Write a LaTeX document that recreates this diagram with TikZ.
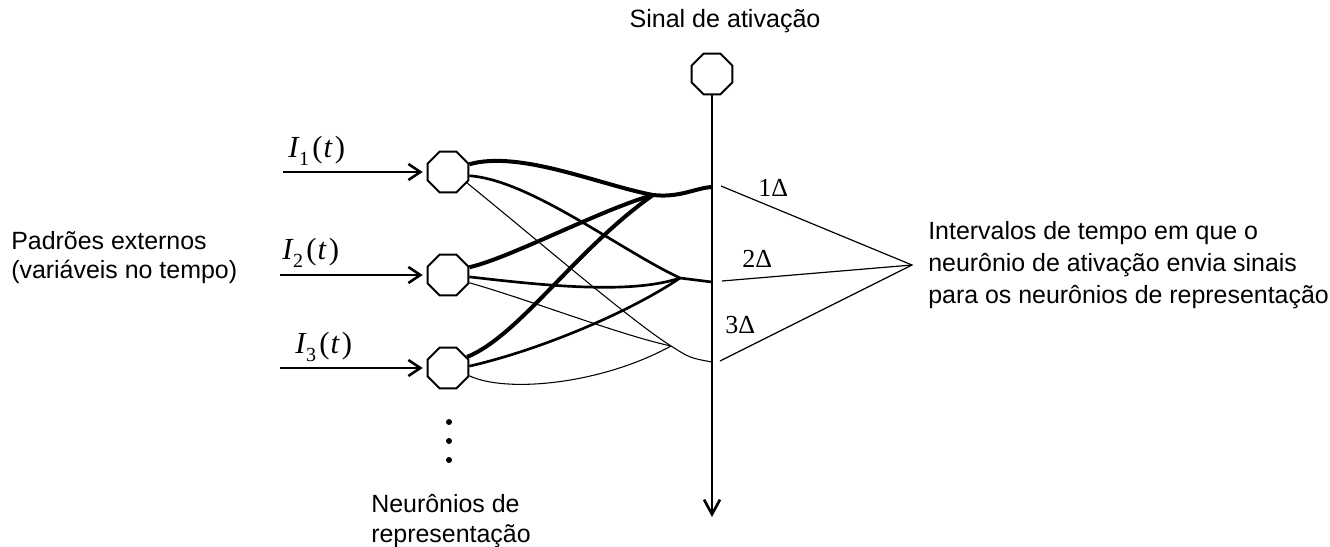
\documentclass[tikz,border=0pt]{standalone}
\usepackage{fontspec}
\setmainfont{Liberation Sans}
\newfontfamily\tms{Liberation Serif}
\usetikzlibrary{arrows.meta,shapes.geometric}

% I_k(t) input labels in a Times-like face
\newcommand\inputlabel[1]{{\tms\fontsize{23}{23}\selectfont\textit{I}\kern-0.5pt\raisebox{-6pt}{\fontsize{15}{15}\selectfont #1}\kern2.5pt(\kern0.8pt\textit{t}\kern1.5pt)}}

\begin{document}
\begin{tikzpicture}[x=0.75pt,y=-0.75pt,
  neuron/.style={draw, line width=1.5pt, regular polygon, regular polygon sides=8,
                 minimum size=33pt, inner sep=0pt},
  strong/.style={line width=3pt},
  mid/.style={line width=2pt},
  weak/.style={line width=0.8pt},
  guide/.style={line width=0.9pt},
  inarrow/.style={line width=1.9pt, -{Straight Barb[length=9pt,width=12pt]}, shorten >=3pt},
  axis/.style={line width=2pt, -{Straight Barb[length=11pt,width=12pt]}},
  lbl/.style={inner sep=0pt, align=left},
  dlt/.style={inner sep=0pt, font=\tms\fontsize{19.5}{19.5}\selectfont},
]
\useasboundingbox (0,0) rectangle (1330,546);

% neurons
\node[neuron] (n1) at (448,172) {};
\node[neuron] (n2) at (448,275) {};
\node[neuron] (n3) at (448,368) {};
\node[neuron] (a) at (712,74) {};

% activation axis
\coordinate (vend) at (712,517);
\draw[axis] (a.south) -- (vend);

% inputs
\coordinate (s1) at (283,172);
\coordinate (s2) at (280,275);
\coordinate (s3) at (280,368);
\draw[inarrow] (s1) -- (n1.west);
\draw[inarrow] (s2) -- (n2.west);
\draw[inarrow] (s3) -- (n3.west);
\node[anchor=base west, inner sep=0pt] (i1) at (288,157) {\inputlabel{1}};
\node[anchor=base west, inner sep=0pt] (i2) at (282,259) {\inputlabel{2}};
\node[anchor=base west, inner sep=0pt] (i3) at (295,353) {\inputlabel{3}};

% junctions on the axis and merge points
\coordinate (j1) at (712,187);
\coordinate (j2) at (712,282);
\coordinate (j3) at (712,362);
\coordinate (m1) at (653,195);
\coordinate (m2) at (680,278);
\coordinate (m3) at (671,346);

% delay 1
\draw[strong] (n1.20) .. controls (520,150) and (600,185) .. (m1)
              .. controls (680,198) and (695,188) .. (j1);
\draw[strong] (n2.20) .. controls (510,258) and (600,210) .. (m1);
\draw[strong] (n3.30) .. controls (520,335) and (575,250) .. (m1);

% delay 2
\draw[mid] (n1.-10) .. controls (530,180) and (620,250) .. (m2) -- (j2);
\draw[mid] (n2.-5) .. controls (540,285) and (630,295) .. (m2);
\draw[mid] (n3.5) .. controls (540,350) and (630,312) .. (m2);

% delay 3
\draw[weak] (n1.-30) .. controls (535,238) and (630,320) .. (m3)
            .. controls (690,358) .. (j3);
\draw[weak] (n2.-20) .. controls (530,300) and (620,335) .. (m3);
\draw[weak] (n3.-20) .. controls (505,393) and (600,385) .. (m3);

% interval pointers
\coordinate (r1) at (721,186);
\coordinate (r2) at (722,281);
\coordinate (r3) at (720,361);
\coordinate (apex) at (912,265);
\draw[guide] (r1) -- (apex) -- (r3);
\draw[guide] (r2) -- (apex);

\node[dlt, anchor=base west] (d1) at (758,196) {1Δ};
\node[dlt, anchor=base west] (d2) at (742,267) {2Δ};
\node[dlt, anchor=base west] (d3) at (725,333) {3Δ};

% more neurons below
\fill (449,422) circle (2.25pt);
\fill (449,441) circle (2.25pt);
\fill (449,460) circle (2.25pt);

% captions
\node[lbl, anchor=base, font=\fontsize{18.8}{24}\selectfont] (sig) at (725,27) {Sinal de ativação};
\node[lbl, anchor=north west, font=\fontsize{18.7}{22}\selectfont] (ext) at (11,231)
  {Padrões externos\\(variáveis no tempo)};
\node[lbl, anchor=north west, font=\fontsize{18.7}{24}\selectfont] (iv) at (928,221)
  {Intervalos de tempo em que o\\neurônio de ativação envia sinais\\para os neurônios de representação};
\node[lbl, anchor=north west, font=\fontsize{18.7}{22.5}\selectfont] (rep) at (371,494)
  {Neurônios de\\representação};
\end{tikzpicture}
\end{document}
